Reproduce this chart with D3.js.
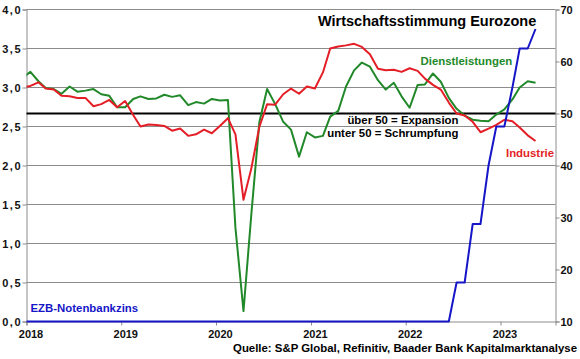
<!DOCTYPE html>
<html><head><meta charset="utf-8">
<script src="https://cdn.jsdelivr.net/npm/d3@7"></script>
<style>
body{margin:0;background:#fff}
svg{display:block}
text{font-family:"Liberation Sans",Arial,sans-serif;font-weight:bold}
</style>
</head><body>
<svg id="c" width="580" height="359"></svg>
<script>
// ---- data ----
const months = [
  "2017-12",
  "2018-01","2018-02","2018-03","2018-04","2018-05","2018-06","2018-07","2018-08","2018-09","2018-10","2018-11","2018-12",
  "2019-01","2019-02","2019-03","2019-04","2019-05","2019-06","2019-07","2019-08","2019-09","2019-10","2019-11","2019-12",
  "2020-01","2020-02","2020-03","2020-04","2020-05","2020-06","2020-07","2020-08","2020-09","2020-10","2020-11","2020-12",
  "2021-01","2021-02","2021-03","2021-04","2021-05","2021-06","2021-07","2021-08","2021-09","2021-10","2021-11","2021-12",
  "2022-01","2022-02","2022-03","2022-04","2022-05","2022-06","2022-07","2022-08","2022-09","2022-10","2022-11","2022-12",
  "2023-01","2023-02","2023-03","2023-04","2023-05"
];
const industrie = [
  55.0,
  55.3,56.0,54.8,54.6,53.4,53.3,53.0,53.0,51.4,51.8,52.6,51.2,
  52.4,49.7,47.5,47.9,47.8,47.6,46.7,47.1,45.7,46.0,46.9,46.2,
  47.6,49.1,46.0,33.4,39.4,47.4,51.8,51.7,53.7,54.8,53.8,55.2,
  54.8,57.9,62.5,62.9,63.1,63.4,62.8,61.4,58.6,58.3,58.4,58.0,
  58.7,58.2,56.7,55.5,54.6,52.1,50.0,49.6,48.4,46.4,47.1,47.8,
  48.8,48.5,47.3,45.8,44.7
];
const dienstleistungen = [
  56.8,
  58.0,56.2,54.9,54.7,53.8,55.2,54.2,54.4,54.7,53.7,53.4,51.2,
  51.2,52.8,53.3,52.8,52.9,53.6,53.2,53.5,51.6,52.2,51.9,52.8,
  52.5,52.6,28.0,12.0,30.5,48.3,54.7,51.8,48.4,46.9,41.7,46.4,
  45.4,45.7,49.4,50.5,55.2,58.3,59.8,59.0,56.4,54.6,55.9,53.3,
  51.1,55.5,55.6,57.7,56.1,53.0,50.9,49.6,48.8,48.6,48.5,49.8,
  50.8,52.7,55.0,56.2,55.9
];
const ezbZins = [
  0,
  0,0,0,0,0,0,0,0,0,0,0,0,
  0,0,0,0,0,0,0,0,0,0,0,0,
  0,0,0,0,0,0,0,0,0,0,0,0,
  0,0,0,0,0,0,0,0,0,0,0,0,
  0,0,0,0,0,0,0.5,0.5,1.25,1.25,2.0,2.5,
  2.5,3.0,3.5,3.5,3.75
];
const yearTicks = ["2018","2019","2020","2021","2022","2023"];
const leftTicks = [0,0.5,1.0,1.5,2.0,2.5,3.0,3.5,4.0];
const rightTicks = [10,20,30,40,50,60,70];
const thresholdLine = 50;

// ---- layout ----
const L = 26.5, R = 555.5, T = 9.5, B = 321.5;
const svg = d3.select("#c");
const parse = s => { const [y, m] = s.split("-").map(Number); return new Date(y, m - 1, 16); };
const dates = months.map(parse);

const x = d3.scaleTime().domain([new Date(2018, 0, 1), new Date(2023, 7, 1)]).range([L, R]);
const yL = d3.scaleLinear().domain([0, 4]).range([B, T]);
const yR = d3.scaleLinear().domain([10, 70]).range([B, T]);

const GRID = "#8c8c8c";
const RED = "#e41e26", GREEN = "#22892a", BLUE = "#1616c8";

// gridlines
svg.append("g").selectAll("line").data(leftTicks.filter(d => d > 0)).join("line")
  .attr("x1", L).attr("x2", R).attr("y1", d => yL(d)).attr("y2", d => yL(d))
  .attr("stroke", GRID).attr("stroke-width", 1);

// axes
const fmt = d => d3.format(".1f")(d).replace(".", ",");
const gl = svg.append("g").attr("transform", `translate(${L},0)`)
  .call(d3.axisLeft(yL).tickValues(leftTicks).tickSize(4).tickPadding(0.5).tickFormat(fmt));
const gr = svg.append("g").attr("transform", `translate(${R},0)`)
  .call(d3.axisRight(yR).tickValues(rightTicks).tickSize(4).tickPadding(1).tickFormat(d3.format("d")));
const gb = svg.append("g").attr("transform", `translate(0,${B})`)
  .call(d3.axisBottom(x).tickValues(yearTicks.map(y => new Date(+y, 0, 1))).tickSize(4).tickPadding(5)
    .tickFormat((d, i) => yearTicks[i]));
[gl, gr, gb].forEach(g => {
  g.selectAll("path.domain").attr("stroke", GRID);
  g.selectAll(".tick line").attr("stroke", GRID);
  g.selectAll("text").attr("fill", "#111").style("font-size", "11px")
    .style("font-family", '"Liberation Sans",Arial,sans-serif').style("font-weight", "bold");
});
gl.selectAll(".tick text").style("letter-spacing", "1.5px");
gb.selectAll(".tick text").attr("dx", 4);

// threshold line at 50
svg.append("line").attr("x1", L).attr("x2", R)
  .attr("y1", yR(thresholdLine)).attr("y2", yR(thresholdLine))
  .attr("stroke", "#000").attr("stroke-width", 2);

// clip
svg.append("clipPath").attr("id", "clip").append("rect")
  .attr("x", L).attr("y", T - 2).attr("width", R - L).attr("height", B - T + 4);
const plot = svg.append("g").attr("clip-path", "url(#clip)");

const lineR = d3.line().x((d, i) => x(dates[i])).y(d => yR(d));
const lineL = d3.line().x((d, i) => x(dates[i])).y(d => yL(d));

plot.append("path").datum(dienstleistungen).attr("d", lineR)
  .attr("fill", "none").attr("stroke", GREEN).attr("stroke-width", 2).attr("stroke-linejoin", "round");
plot.append("path").datum(industrie).attr("d", lineR)
  .attr("fill", "none").attr("stroke", RED).attr("stroke-width", 2).attr("stroke-linejoin", "round");
plot.append("path").datum(ezbZins).attr("d", lineL)
  .attr("fill", "none").attr("stroke", BLUE).attr("stroke-width", 2).attr("stroke-linejoin", "round");

// labels
function label(txt, xp, yp, color, size, anchor) {
  svg.append("text").attr("x", xp).attr("y", yp).attr("fill", color)
    .attr("text-anchor", anchor || "start").style("font-size", size + "px").text(txt);
}
label("Wirtschaftsstimmung Eurozone", 318, 26, "#000", 14.5);
label("Dienstleistungen", 420.5, 65, GREEN, 11.4);
label("Industrie", 506, 156.5, RED, 11.4);
label("über 50 = Expansion", 458.5, 124, "#000", 11.4, "end");
label("unter 50 = Schrumpfung", 458.5, 136.5, "#000", 11.4, "end");
label("EZB-Notenbankzins", 30.5, 311.5, BLUE, 11.4);
label("Quelle: S&P Global, Refinitiv, Baader Bank Kapitalmarktanalyse", 577, 351.5, "#000", 11.4, "end");
</script>
</body></html>
